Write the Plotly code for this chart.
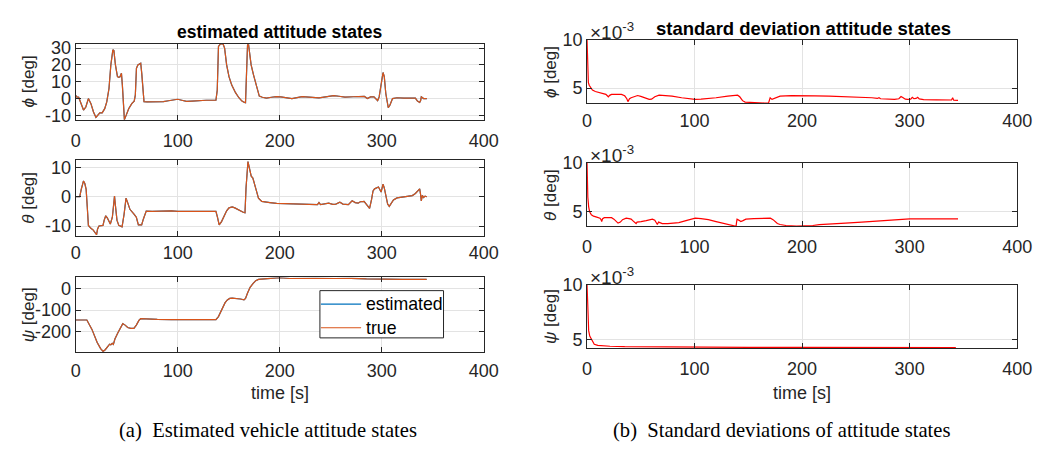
import plotly.graph_objects as go

# ---------------- data ----------------
phi_t = [0, 1, 3, 5, 7.7, 10, 12.5, 15, 17.5, 19.9, 21.5, 23.7, 26, 28.5, 30.5, 32.7, 34.5, 36.5, 37.5, 39, 41,
         42.3, 43.5, 44.9, 45.8, 46.8, 47.8, 49.5, 52, 55, 57.4, 58.5, 59.6, 61, 63.8, 64.8, 66, 67, 70, 75, 81.4,
         86, 91, 96, 100, 104, 108.7, 114, 119.9, 128, 137.5, 138.8, 140, 142, 144.5, 146, 148, 150.3, 153, 156.7,
         160, 163, 165.5, 166.5, 167.5, 168.5, 169.5, 170.5, 172, 174.4, 177, 180, 183, 187, 192, 196.8, 201, 206.4,
         212, 222, 230, 238.5, 245, 252.9, 258, 264, 272, 283, 286, 289, 292.4, 294, 296, 297.5, 299, 301.3, 302.5,
         304, 306.4, 308, 310.6, 315, 321.8, 328, 333, 335, 337.2, 338.2, 338.8, 341, 344.2]
phi_true = [2, 1, 0.8, -3, -6.8, -5, 0, -3, -8, -11.2, -10, -8.5, -8.5, -6, -2, 6, 20, 29, 28.5, 20, 13,
            12.6, 13, 15, 8, -5, -12.5, -10, -6, -3, -1.5, 2, 18, 20, 21, 15, 2, -1.8, -2, -2, -1.8,
            -1.8, -1.3, -0.8, -0.4, -1, -1.7, -1.5, -1.1, -1, -1, 5, 31, 32.5, 32.5, 30, 20, 13, 8, 3.5,
            0.5, -1.5, -2.3, -2.5, 15, 32, 32, 27, 20, 14, 8, 1.5, 0.8, 0.3, 0.8, 1.2, 1, 0.3,
            0, 1.2, 0.8, 0.4, 1, 1.7, 1.4, 0.9, 1.1, 1.3, 0, 1, 1, 0, -1.2, 1, 8, 15.5, 13,
            3, -5.4, -4, 0, 0.5, 0.3, 0.5, 0.3, -1.5, -2.3, -1, 1, 0, 0]
phi_est = list(phi_true)

theta_t = [0, 4, 5.5, 7.7, 9, 10.3, 11.5, 12.5, 15, 17.3, 20.5, 21.5, 22.9, 26.8, 28, 29.5, 31, 34, 36, 37.2, 38.1,
           39, 40.5, 42.3, 45.5, 47.5, 49.4, 51, 53.2, 57.4, 59.5, 61.5, 64.7, 66.5, 69.2, 75, 85, 94, 100, 110, 120,
           130, 137.5, 139, 140.7, 143, 145.6, 148, 150.3, 153.5, 156, 158.3, 161, 164.7, 166, 167, 168.9, 170, 172.1,
           173.7, 175.5, 177, 179.2, 182.4, 186, 190.4, 197, 206.4, 219.2, 230, 237, 238.5, 240, 248, 252, 255, 259,
           262, 267.3, 271, 274, 276.9, 279, 282.7, 285, 288.1, 290, 291.5, 293, 296.8, 299.4, 301.3, 302.5, 304.2,
           305.8, 307.4, 309.5, 311.5, 315, 318.6, 326.6, 330, 333, 335.5, 337.2, 338, 338.8, 339.8, 341, 342.5, 344.2]
theta_true = [0, 0, 2.5, 5.4, 4.5, 2.5, -4, -9.8, -10.8, -11.4, -13, -11, -10, -9.8, -8, -6.5, -7.2, -9.3, -7, -2, 0.2,
              -3, -8, -9.8, -10.3, -6, -0.5, -2, -4.3, -6, -7, -9.6, -9.6, -7.5, -4.9, -5, -4.9, -4.8, -5, -5, -5,
              -5, -5, -7, -9.6, -8.5, -6.5, -4.8, -3.8, -3.5, -3.8, -4.3, -4.8, -5.4, -5.5, 3, 12, 10, 7,
              6.4, 4, 1.5, -0.5, -1.6, -1.7, -2, -2.3, -2.4, -2.7, -2.6, -2.7, -2.0, -2.7, -2.2, -2.6, -2.5, -1.9,
              -2.5, -2.7, -1.4, -2, -2.2, -1.7, -1.6, -2.5, -4, -1, 2, 2.7, 3.3, 1.6, 4.3, 3, -0.5,
              -2.5, -3.3, -2.3, -1.1, -0.4, -0.2, 0, 0.4, 1.1, 2, 2.7, 1, -1.4, 0.5, -0.3, 0.2, 0]
theta_est = list(theta_true)

psi_t = [0, 11, 16, 21, 24.5, 26.9, 29, 31.5, 33.3, 34.5, 35.9, 37, 38.5, 41.3, 43.5, 46.2, 48.5, 51, 54, 57.1,
         59.5, 62, 63.8, 67, 80, 94, 110, 125, 137.5, 140, 143.9, 146.5, 148.7, 151, 153.5, 157, 161.5, 165,
         166.5, 168.5, 171, 174, 176.5, 179.2, 185, 190.4, 200, 210, 222, 235, 254, 270, 285, 299, 320, 344]
psi_true = [-146, -146, -190, -250, -280, -293, -285, -270, -259, -262, -255, -260, -235, -207, -185, -163, -170,
            -181, -185, -185, -170, -148, -140, -141, -143, -144, -144, -144, -144, -130, -90, -65, -52, -45, -44,
            -45, -48, -52, -45, -20, 7, 25, 38, 44, 46, 47, 52, 48, 47, 49, 48, 49, 46, 44, 44, 44]
psi_est = list(psi_true)

# standard deviations, in units of 1e-3 deg
sphi_t = [0, 0.3, 0.6, 1.2, 2, 3, 5, 7.7, 11, 15.2, 17.5, 19.8, 21, 22.8, 27, 32, 35, 37, 38, 39.5, 41, 44, 47, 50,
          54, 57.8, 60, 63, 67, 73, 79, 88, 95, 100.4, 106, 112.6, 120, 130.8, 137, 140, 142, 144.6, 147, 149.2,
          155, 160, 165, 168.8, 169.5, 170.3, 172, 174, 176, 179.5, 190, 200.8, 212, 225, 240, 255.5, 265, 270,
          271.5, 273, 280, 285.9, 290, 292, 294, 296, 298, 301, 302.5, 304, 306, 307.5, 309, 313, 325, 337, 339,
          340, 341, 345]
sphi = [10, 8, 6.0, 5.6, 5.3, 5.13, 4.8, 4.65, 4.55, 4.5, 4.35, 4.1, 4.25, 4.35, 4.35, 4.35, 4.2, 3.9, 3.6, 3.9,
        4.0, 4.15, 4.23, 4.15, 3.95, 3.83, 3.85, 4.1, 4.27, 4.25, 4.17, 4.0, 3.9, 3.83, 3.85, 3.9, 4.0, 4.17, 4.22,
        4.27, 4.1, 3.7, 3.55, 3.53, 3.47, 3.45, 3.45, 3.47, 3.9, 4.0, 3.83, 3.9, 4.05, 4.17, 4.22, 4.23, 4.2,
        4.17, 4.12, 4.07, 4.0, 3.93, 4.0, 3.9, 3.87, 3.83, 3.9, 4.13, 4.0, 3.85, 3.83, 3.85, 4.05, 3.9, 3.93,
        4.05, 3.88, 3.8, 3.78, 3.77, 3.77, 4.0, 3.75, 3.73]

stheta_t = [0, 0.3, 0.7, 1.5, 2.4, 4, 6, 9, 12, 13, 13.6, 14.5, 16, 22.8, 25, 28.8, 31, 33, 36.4, 39, 41, 43, 45.6,
            46.5, 48, 50.2, 55, 60.8, 63, 63.9, 65.4, 66.5, 68, 70, 75, 85.4, 92, 100.6, 106, 112.8, 120, 128, 133,
            138.6, 139, 139.5, 141, 143, 145, 147.7, 155, 165, 170.5, 173, 175, 177, 179.5, 185, 194.7, 203.8, 210,
            216, 228, 240.3, 255.5, 262, 270.7, 280, 292, 300, 320, 345]
stheta = [10, 8, 6.5, 5.5, 5.0, 4.7, 4.55, 4.45, 4.35, 4.2, 4.0, 4.3, 4.4, 4.4, 4.25, 3.85, 3.95, 4.2, 4.35, 4.3,
          4.25, 4.05, 3.8, 3.95, 4.0, 4.0, 4.1, 4.25, 4.15, 4.0, 3.7, 3.95, 3.85, 3.8, 3.8, 3.9, 4.1, 4.35, 4.3,
          4.2, 4.0, 3.8, 3.65, 3.52, 3.9, 4.25, 4.15, 4.0, 4.1, 4.25, 4.3, 4.32, 4.35, 4.2, 4.0, 3.8, 3.7, 3.6,
          3.53, 3.53, 3.6, 3.7, 3.75, 3.85, 3.95, 4.0, 4.1, 4.17, 4.25, 4.27, 4.28, 4.28]

spsi_t = [0, 0.3, 0.7, 1.5, 2.5, 4.6, 6.7, 10, 15, 21.3, 35, 63.8, 100, 150, 200, 250, 300, 343]
spsi = [10, 8.5, 7, 5.8, 5.3, 4.9, 4.55, 4.45, 4.4, 4.37, 4.33, 4.3, 4.28, 4.27, 4.26, 4.25, 4.25, 4.25]

x_ticks = [0, 100, 200, 300, 400]
phi_ticks = [-10, 0, 10, 20, 30]
theta_ticks = [-10, 0, 10]
psi_ticks = [-200, -100, 0]
std_ticks = [5, 10]
legend_names = ["estimated", "true"]

# ---------------- layout helpers ----------------
W, H = 1055, 449
BLUE = "#0072BD"
ORANGE = "#D95319"
RED = "#FF0000"
AX = "#262626"
GRID = "#e3e3e3"
FONT = "Liberation Sans"
TICK = 18


def px(x):
    return x / W


def py(y):
    return 1 - y / H


panels = [
    # (x0, x1, ytop, ybot, yrange, yticks, label standoff)
    (72, 488, 35, 114, [-12.7, 32.6], phi_ticks, 4),
    (72, 488, 156, 234.3, [-13.4, 12.4], theta_ticks, 0),
    (72, 488, 277.3, 354.7, [-296, 53], psi_ticks, 2),
    (593.3, 1031.7, 31, 96.7, [3.43, 10], std_ticks, 1),
    (593.3, 1031.7, 158.3, 224.3, [3.52, 10], std_ticks, 4),
    (593.3, 1031.7, 285, 350.7, [4.19, 10], std_ticks, 4),
]

fig = go.Figure()

series = [
    (phi_t, phi_est, phi_true, 0),
    (theta_t, theta_est, theta_true, 1),
    (psi_t, psi_est, psi_true, 2),
]
for t, est, tru, i in series:
    ax = "" if i == 0 else str(i + 1)
    fig.add_trace(go.Scatter(x=t, y=est, mode="lines", line=dict(color=BLUE, width=1.2),
                             name=legend_names[0], showlegend=False, xaxis="x" + ax, yaxis="y" + ax))
    fig.add_trace(go.Scatter(x=t, y=tru, mode="lines", line=dict(color=ORANGE, width=1.2),
                             name=legend_names[1], showlegend=False, xaxis="x" + ax, yaxis="y" + ax))

for t, s, i in [(sphi_t, sphi, 3), (stheta_t, stheta, 4), (spsi_t, spsi, 5)]:
    ax = str(i + 1)
    fig.add_trace(go.Scatter(x=t, y=s, mode="lines", line=dict(color=RED, width=1.2),
                             showlegend=False, xaxis="x" + ax, yaxis="y" + ax))

layout = dict(
    width=W, height=H,
    margin=dict(l=0, r=0, t=0, b=0),
    paper_bgcolor="white", plot_bgcolor="white",
    font=dict(family=FONT, size=TICK, color=AX),
    showlegend=False,
)


def fmt(v):
    return str(v).replace("−", "-")


for i, (x0, x1, yt, yb, yr, yt_vals, so) in enumerate(panels):
    n = "" if i == 0 else str(i + 1)
    layout["xaxis" + n] = dict(
        domain=[px(x0), px(x1)], anchor="y" + n, range=[0, 400],
        tickvals=x_ticks, ticktext=[fmt(v) for v in x_ticks],
        ticks="inside", ticklen=5, tickcolor=AX,
        showline=True, linecolor=AX, linewidth=1, mirror="ticks",
        showgrid=True, gridcolor=GRID, gridwidth=1, zeroline=False,
        tickfont=dict(family=FONT, size=TICK, color=AX), ticklabelstandoff=so,
    )
    layout["yaxis" + n] = dict(
        domain=[py(yb), py(yt)], anchor="x" + n, range=yr,
        tickvals=yt_vals, ticktext=[fmt(v) for v in yt_vals],
        ticks="inside", ticklen=5, tickcolor=AX,
        showline=True, linecolor=AX, linewidth=1, mirror="ticks",
        showgrid=True, gridcolor=GRID, gridwidth=1, zeroline=False,
        tickfont=dict(family=FONT, size=TICK, color=AX),
    )

annotations = []
shapes = []


def ann(text, x, y, size=18, angle=0, bold=False, family=FONT, color=AX, xanchor="center"):
    annotations.append(dict(text=("<b>%s</b>" % text) if bold else text, x=px(x), y=py(y),
                            xref="paper", yref="paper", showarrow=False, textangle=angle,
                            xanchor=xanchor, yanchor="middle",
                            font=dict(family=family, size=size, color=color)))


ann("estimated attitude states", 280, 23, size=17.5, bold=True, color="black")
ann("standard deviation attitude states", 814, 19, size=18.5, bold=True, color="black")

ylabels = ["<i>ϕ</i> [deg]", "<i>θ</i> [deg]", "<i>ψ</i> [deg]"]
for i, lab in enumerate(ylabels):
    yt, yb = panels[i][2], panels[i][3]
    ann(lab, 24, (yt + yb) / 2, size=17, angle=-90)
    yt, yb = panels[i + 3][2], panels[i + 3][3]
    ann(lab, 556, (yt + yb) / 2, size=17, angle=-90)

for i in range(3, 6):
    yt = panels[i][2]
    ann("×10<sup>-3</sup>", 594, yt - 9, size=19, xanchor="left")

ann("time [s]", 280, 397, size=18)
ann("time [s]", 812, 397, size=18)

ann("(a)  Estimated vehicle attitude states", 268, 436, size=20.6, family="Liberation Serif", color="black")
ann("(b)  Standard deviations of attitude states", 792, 436, size=20.6, family="Liberation Serif", color="black")

# legend box inside the psi panel
lx0, lx1, ly0, ly1 = 321, 447, 291, 340
shapes.append(dict(type="rect", xref="paper", yref="paper", x0=px(lx0), x1=px(lx1), y0=py(ly1), y1=py(ly0),
                   line=dict(color=AX, width=1), fillcolor="white", layer="above"))
for name, col, yy in [(legend_names[0], BLUE, 305), (legend_names[1], ORANGE, 329.5)]:
    shapes.append(dict(type="line", xref="paper", yref="paper", x0=px(322), x1=px(363), y0=py(yy), y1=py(yy),
                       line=dict(color=col, width=1.2), layer="above"))
    ann(name, 365.5, yy, size=17.7, color="black", xanchor="left")

layout["annotations"] = annotations
layout["shapes"] = shapes
fig.update_layout(**layout)

fig.write_html("out.html")
